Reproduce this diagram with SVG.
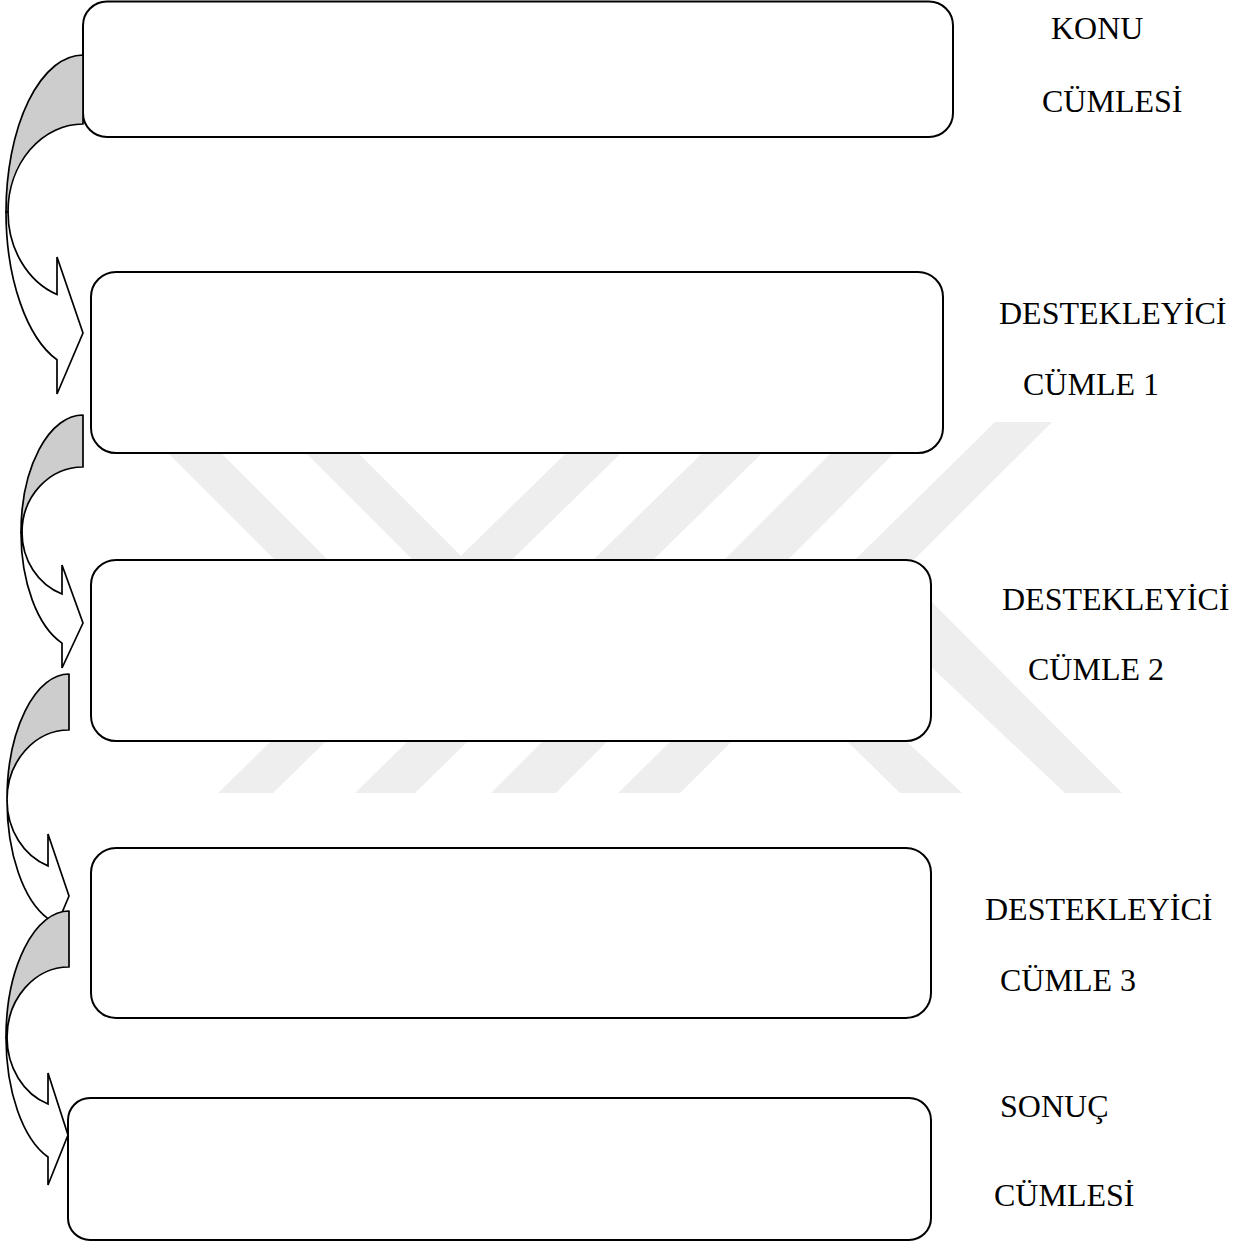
<svg xmlns="http://www.w3.org/2000/svg" width="1239" height="1245" viewBox="0 0 1239 1245">
<style>
.wm{fill:#eeeeee;stroke:none}
.box{fill:#ffffff;stroke:#000000;stroke-width:2}
.back{fill:#cdcdcd;stroke:#000000;stroke-width:1.7;stroke-linejoin:round}
.front{fill:#ffffff;stroke:#000000;stroke-width:1.7;stroke-linejoin:miter}
.lbl{font-size:32px;fill:#000000}
</style>
<rect width="1239" height="1245" fill="#ffffff"/>
<g id="watermark">
<polygon class="wm" points="137,422 190,422 490,722 437,722"/>
<polygon class="wm" points="275,422 327,422 505,600 453,600"/>
<polygon class="wm" points="598,422 653,422 273,793 218,793"/>
<polygon class="wm" points="734,422 794,422 415,793 355,793"/>
<polygon class="wm" points="862,422 925,422 556,793 491,793"/>
<polygon class="wm" points="995,422 1052,422 680,793 618,793"/>
<polygon class="wm" points="805,700 862,700 962,793 900,793"/>
<polygon class="wm" points="860,600 905,575 1122,793 1065,793"/>
</g>
<g font-family="'Liberation Serif', 'Times New Roman', 'DejaVu Serif', serif">
<g id="node-konu">
<rect class="box" x="83" y="1.5" width="870" height="135.5" rx="24" ry="24"/>
<text class="lbl" x="1051" y="39" font-family="'Liberation Serif', 'Times New Roman', serif">KONU</text>
<text class="lbl" x="1042" y="112" font-family="'Liberation Serif', 'Times New Roman', serif">CÜMLESİ</text>
</g>
<g id="node-destekleyici-1">
<rect class="box" x="91" y="272" width="852" height="181" rx="25" ry="25"/>
<text class="lbl" x="999" y="324" font-family="'Liberation Serif', 'Times New Roman', serif">DESTEKLEYİCİ</text>
<text class="lbl" x="1023" y="395" font-family="'Liberation Serif', 'Times New Roman', serif">CÜMLE 1</text>
</g>
<g id="node-destekleyici-2">
<rect class="box" x="91" y="560" width="840" height="181" rx="25" ry="25"/>
<text class="lbl" x="1002" y="610" font-family="'Liberation Serif', 'Times New Roman', serif">DESTEKLEYİCİ</text>
<text class="lbl" x="1028" y="680" font-family="'Liberation Serif', 'Times New Roman', serif">CÜMLE 2</text>
</g>
<g id="node-destekleyici-3">
<rect class="box" x="91" y="848" width="840" height="170" rx="25" ry="25"/>
<text class="lbl" x="985" y="920" font-family="'Liberation Serif', 'Times New Roman', serif">DESTEKLEYİCİ</text>
<text class="lbl" x="1000" y="991" font-family="'Liberation Serif', 'Times New Roman', serif">CÜMLE 3</text>
</g>
<g id="node-sonuc">
<rect class="box" x="68" y="1098" width="863" height="142" rx="22" ry="22"/>
<text class="lbl" x="1000" y="1117" font-family="'Liberation Serif', 'Times New Roman', serif">SONUÇ</text>
<text class="lbl" x="994" y="1206" font-family="'Liberation Serif', 'Times New Roman', serif">CÜMLESİ</text>
</g>
</g>
<g id="connectors">
<g id="arrow-1">
<path class="back" d="M83,55 A77,157 0 0 0 6,212 L8,212 A75,88 0 0 1 83,124 Z"/>
<path class="front" d="M6,212 A77,157 0 0 0 57,359.8 L57,394 L83,333 L57,257 L57,294.5 A75,88 0 0 1 8,212 Z"/>
</g>
<g id="arrow-2">
<path class="back" d="M83,415 A62,117.5 0 0 0 21,532.5 L22,532.5 A61,65.5 0 0 1 83,467 Z"/>
<path class="front" d="M21,532.5 A62,117.5 0 0 0 62,643.1 L62,668 L83,623 L62,565 L62,594 A61,65.5 0 0 1 22,532.5 Z"/>
</g>
<g id="arrow-3">
<path class="back" d="M69,674 A62,126 0 0 0 7,800 A62,70 0 0 1 69,730 Z"/>
<path class="front" d="M7,800 A62,126 0 0 0 48,918.6 L48,946 L69,896 L48,834 L48,865.9 A62,70 0 0 1 7,800 Z"/>
</g>
<g id="arrow-4">
<path class="back" d="M69,911 A63,126.6 0 0 0 6,1037.6 L7,1037.6 A62,70.6 0 0 1 69,967 Z"/>
<path class="front" d="M6,1037.6 A63,126.6 0 0 0 48,1157 L48,1185 L68,1135 L48,1073 L48,1104 A62,70.6 0 0 1 7,1037.6 Z"/>
</g>
</g>
</svg>
